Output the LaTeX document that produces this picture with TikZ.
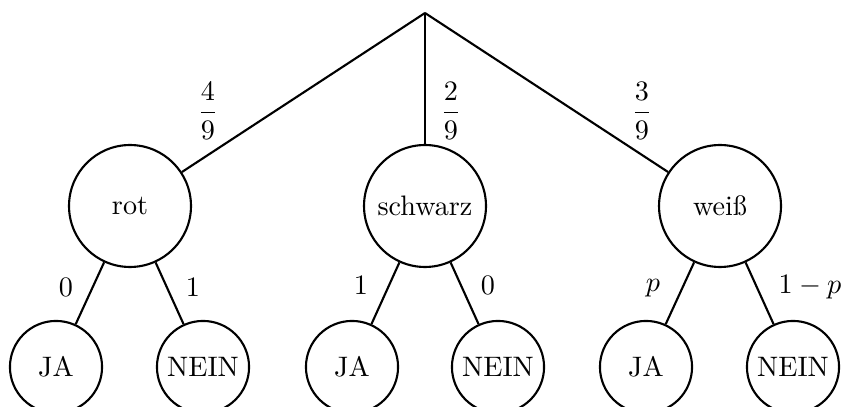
\documentclass[tikz,border=0pt]{standalone}
\usepackage{amsmath}
\begin{document}
\begin{tikzpicture}[x=0.355pt, y=-0.355pt,
  every path/.style={line width=0.75pt},
  branch/.style={circle, draw, line width=0.75pt, inner sep=0pt, minimum size=43.3pt},
  leaf/.style={circle, draw, line width=0.75pt, inner sep=0pt, minimum size=32.7pt},
  prob/.style={inner sep=0pt}]
  \useasboundingbox (0,0) rectangle (843,407);

  % root and first level
  \coordinate (root) at (425,13);
  \node[branch] (rot) at (130,206) {rot};
  \node[branch] (schwarz) at (425,206) {schwarz};
  \node[branch] (weiss) at (720,206) {wei\ss};

  % second level
  \node[leaf] (rja)   at (56,367)  {JA};
  \node[leaf] (rnein) at (203,367) {NEIN};
  \node[leaf] (sja)   at (352,367) {JA};
  \node[leaf] (snein) at (498,367) {NEIN};
  \node[leaf] (wja)   at (646,367) {JA};
  \node[leaf] (wnein) at (793,367) {NEIN};

  % branches
  \draw (root) -- (rot);
  \draw (root) -- (schwarz);
  \draw (root) -- (weiss);
  \draw (rot) -- (rja);
  \draw (rot) -- (rnein);
  \draw (schwarz) -- (sja);
  \draw (schwarz) -- (snein);
  \draw (weiss) -- (wja);
  \draw (weiss) -- (wnein);

  % probabilities
  \node[prob] (p1) at (208,111) {$\dfrac{4}{9}$};
  \node[prob] (p2) at (451,111) {$\dfrac{2}{9}$};
  \node[prob] (p3) at (642,111) {$\dfrac{3}{9}$};
  \node[prob] (q1) at (66,287)  {$0$};
  \node[prob] (q2) at (193,287) {$1$};
  \node[prob] (q3) at (361,285) {$1$};
  \node[prob] (q4) at (488,285) {$0$};
  \node[prob] (q5) at (653,288) {$p$};
  \node[prob] (q6) at (810,287) {$1-p$};
\end{tikzpicture}
\end{document}
